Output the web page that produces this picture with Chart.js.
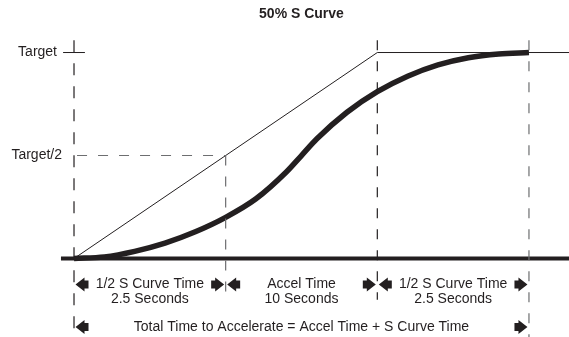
<!DOCTYPE html>
<html>
<head>
<meta charset="utf-8">
<script src="https://cdn.jsdelivr.net/npm/chart.js@4"></script>
<style>
  body { margin: 0; background: #fff; }
  canvas { display: block; }
</style>
</head>
<body>
<canvas id="sCurveChart" width="569" height="337"></canvas>
<script>
// values (time in schematic seconds, level as fraction of Target)
const title = '50% S Curve';
const sCurveTime = [0, 1, 2, 3, 4, 5, 6, 7, 7.5, 8, 9, 10, 11, 12, 13, 14, 15];
const sCurveLevel = [0, 0.008, 0.035, 0.075, 0.13, 0.2, 0.29, 0.42, 0.5, 0.58, 0.71, 0.81, 0.885, 0.94, 0.975, 0.993, 1];
const rampTime = [0, 10, 16.4];
const rampLevel = [0, 1, 1];
const markerTimes = [0, 5, 10, 15];
const levelValues = [1, 0.5];
const levelLabels = ['Target', 'Target/2'];
const spanLabels = [
    ['1/2 S Curve Time', '2.5 Seconds'],
    ['Accel Time', '10 Seconds'],
    ['1/2 S Curve Time', '2.5 Seconds']
];
const totalLabel = 'Total Time to Accelerate = Accel Time + S Curve Time';

const ink = '#231f20';
const greyDash = '#6d6e70';

function pts(xs, ys) {
    return xs.map((x, i) => ({ x: x, y: ys[i] }));
}

function flatLine(data, width, color, dash) {
    return {
        data: data,
        borderColor: color,
        borderWidth: width,
        borderDash: dash || [],
        pointRadius: 0,
        tension: 0,
        fill: false,
        clip: false,
        borderCapStyle: 'butt'
    };
}

const datasets = [
    // dashed guides
    flatLine([{ x: markerTimes[0], y: 1.06 }, { x: markerTimes[0], y: -0.39 }], 1.2, ink, [12, 11]),
    flatLine([{ x: markerTimes[1], y: 0.5 }, { x: markerTimes[1], y: -0.2 }], 1.2, greyDash, [10, 11]),
    flatLine([{ x: markerTimes[2], y: 1.06 }, { x: markerTimes[2], y: -0.2 }], 1.2, ink, [10, 11]),
    flatLine([{ x: markerTimes[3], y: 1.06 }, { x: markerTimes[3], y: -0.39 }], 1.2, greyDash, [10, 11]),
    flatLine([{ x: 0.1, y: levelValues[1] }, { x: markerTimes[1], y: levelValues[1] }], 1.2, greyDash, [10, 11]),
    // Target tick
    flatLine([{ x: -0.36, y: levelValues[0] }, { x: 0.36, y: levelValues[0] }], 1, ink),
    // linear ramp
    flatLine(pts(rampTime, rampLevel), 1, ink),
    // baseline
    flatLine([{ x: -0.43, y: 0 }, { x: 16.4, y: 0 }], 4, ink),
    // S curve
    Object.assign(flatLine(pts(sCurveTime, sCurveLevel), 5.5, ink), { cubicInterpolationMode: 'monotone' })
];

function arrowHead(ctx, tipX, y, dir) {
    // dir -1 = points left, +1 = points right
    const b = tipX - dir * 9;
    const t = tipX - dir * 13;
    ctx.beginPath();
    ctx.moveTo(tipX, y);
    ctx.lineTo(b, y - 7);
    ctx.lineTo(b, y - 4);
    ctx.lineTo(t, y - 4);
    ctx.lineTo(t, y + 4);
    ctx.lineTo(b, y + 4);
    ctx.lineTo(b, y + 7);
    ctx.closePath();
    ctx.fill();
}

const labelsPlugin = {
    id: 'labelsPlugin',
    afterDraw(chart) {
        const ctx = chart.ctx;
        const xs = chart.scales.x;
        const ys = chart.scales.y;
        const mid = (a, b) => xs.getPixelForValue((a + b) / 2);
        ctx.save();
        ctx.fillStyle = ink;

        // title
        ctx.font = 'bold 14px "Liberation Sans", Arial, sans-serif';
        ctx.textAlign = 'center';
        ctx.textBaseline = 'middle';
        ctx.fillText(title, mid(markerTimes[0], markerTimes[3]), ys.getPixelForValue(1.185));

        // level labels
        ctx.font = '14px "Liberation Sans", Arial, sans-serif';
        ctx.textAlign = 'right';
        const x0 = xs.getPixelForValue(markerTimes[0]);
        ctx.fillText(levelLabels[0], x0 - 17, ys.getPixelForValue(levelValues[0]));
        ctx.fillText(levelLabels[1], x0 - 12, ys.getPixelForValue(levelValues[1]));

        // span labels
        ctx.textAlign = 'center';
        const row1 = ys.getPixelForValue(-0.126);
        const row2 = ys.getPixelForValue(-0.195);
        const row3 = ys.getPixelForValue(-0.332);
        spanLabels.forEach((lines, i) => {
            const cx = mid(markerTimes[i], markerTimes[i + 1]);
            ctx.fillText(lines[0], cx, row1);
            ctx.fillText(lines[1], cx, row2);
        });
        ctx.fillText(totalLabel, mid(markerTimes[0], markerTimes[3]), row3);

        // arrows
        markerTimes.forEach((t, i) => {
            const px = xs.getPixelForValue(t);
            if (i > 0) arrowHead(ctx, px - 1.5, row1, 1);
            if (i < markerTimes.length - 1) arrowHead(ctx, px + 1.5, row1, -1);
        });
        arrowHead(ctx, xs.getPixelForValue(markerTimes[0]) + 1.5, row3, -1);
        arrowHead(ctx, xs.getPixelForValue(markerTimes[3]) - 1.5, row3, 1);
        ctx.restore();
    }
};

new Chart(document.getElementById('sCurveChart'), {
    type: 'line',
    data: { datasets: datasets },
    options: {
        responsive: false,
        animation: false,
        events: [],
        layout: { padding: 0 },
        plugins: { legend: { display: false }, tooltip: { enabled: false }, title: { display: false } },
        scales: {
            x: { type: 'linear', display: false, min: -2.44, max: 16.32 },
            y: { type: 'linear', display: false, min: -0.381, max: 1.255 }
        }
    },
    plugins: [labelsPlugin]
});
</script>
</body>
</html>
